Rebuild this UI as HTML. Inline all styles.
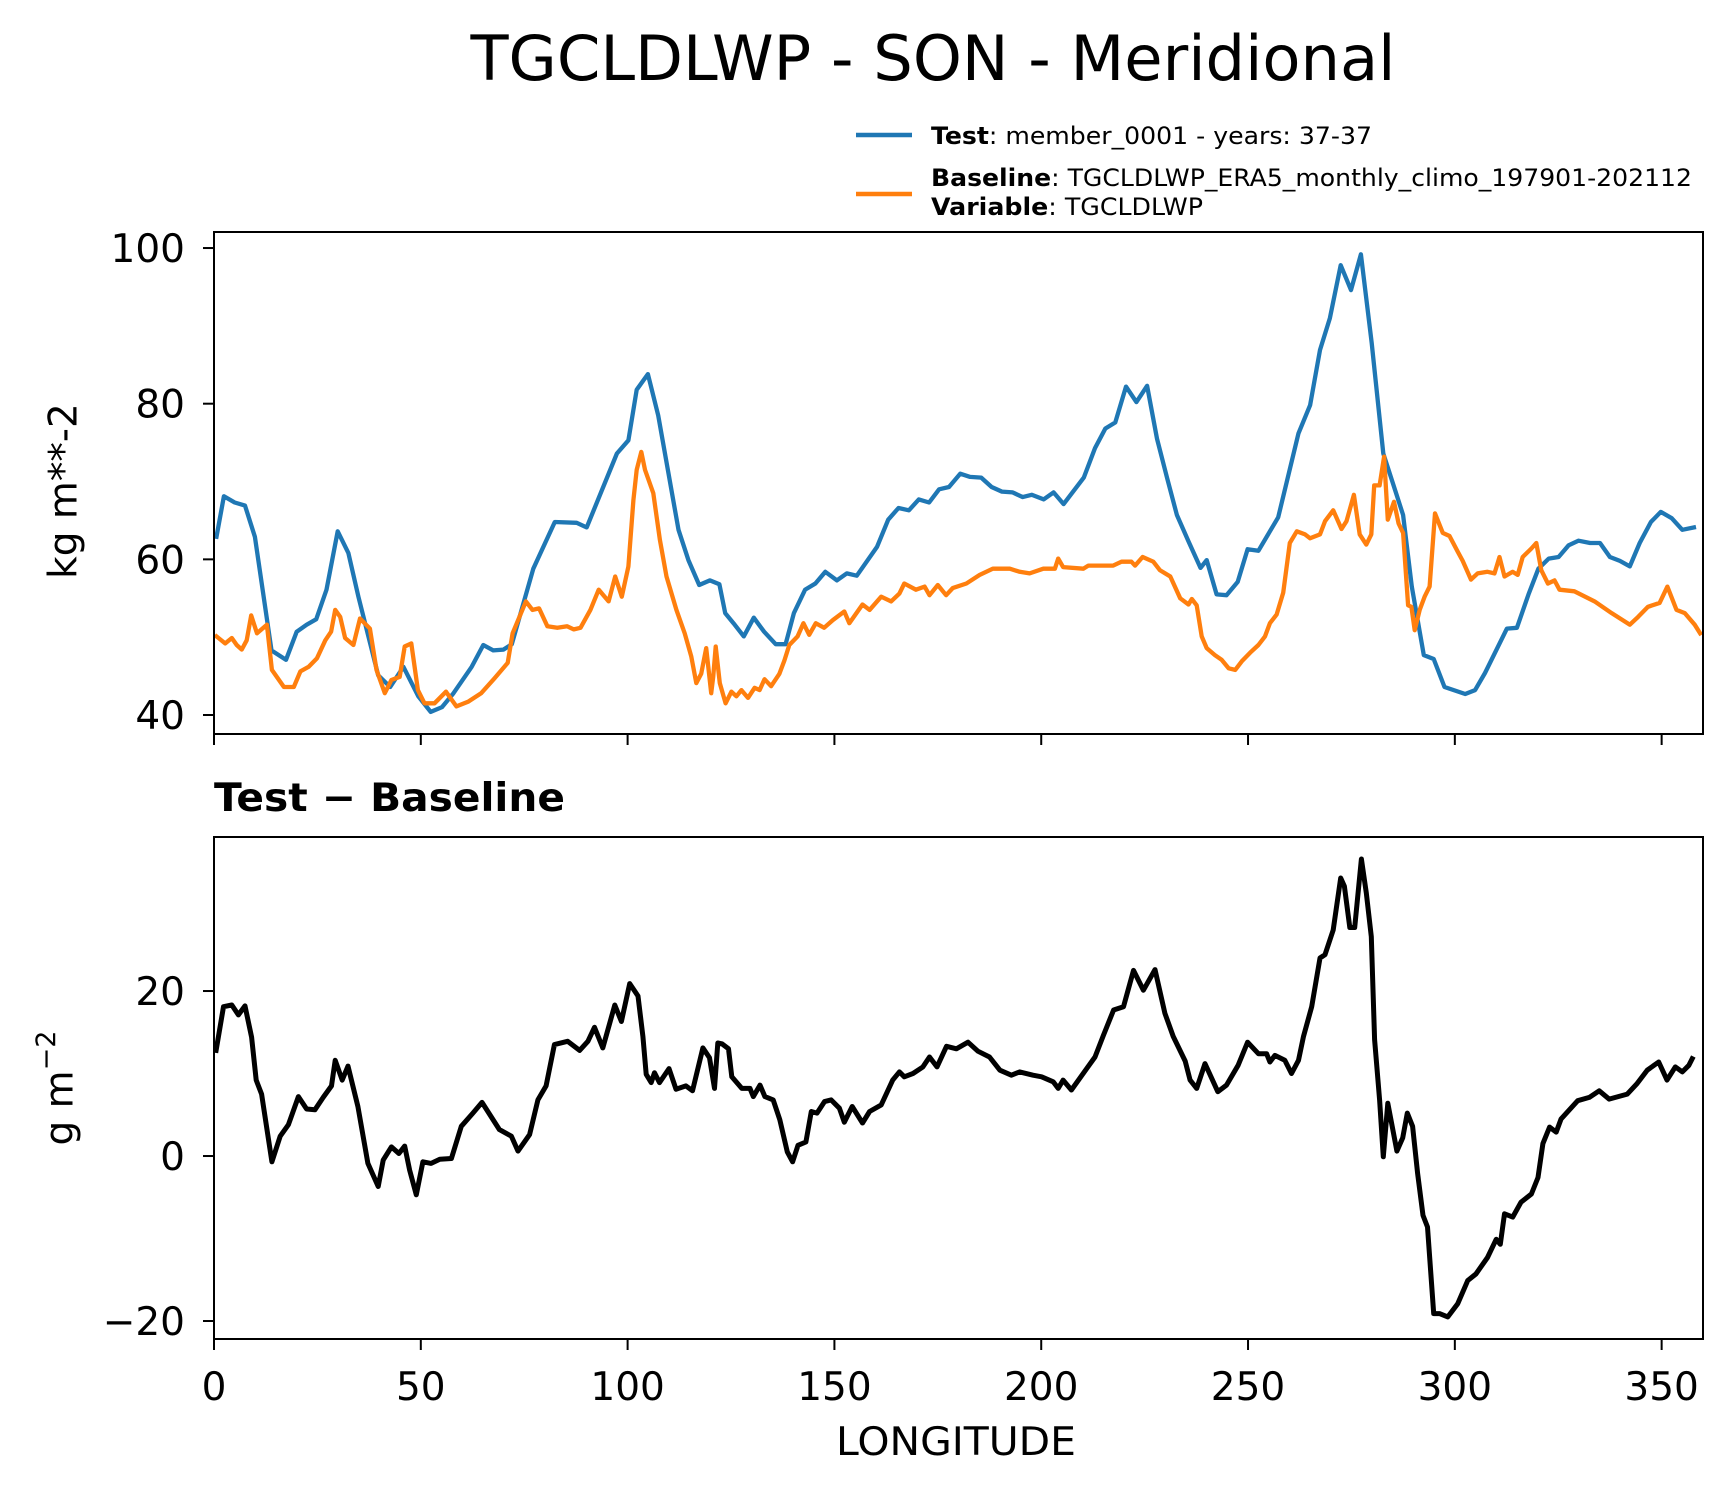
<!DOCTYPE html>
<html><head><meta charset="utf-8"><style>
html,body{margin:0;padding:0;background:#fff;}
svg{display:block;font-family:"DejaVu Sans","Liberation Sans",sans-serif;}
</style></head><body>
<svg id="chart" width="1731" height="1496" viewBox="0 0 1731 1496" xmlns="http://www.w3.org/2000/svg">
<rect x="0" y="0" width="1731" height="1496" fill="#fff"/>
<text x="933" y="80" font-size="62" text-anchor="middle" textLength="925" lengthAdjust="spacingAndGlyphs">TGCLDLWP - SON - Meridional</text>
<g>
<line x1="856" y1="135" x2="912" y2="135" stroke="#1f77b4" stroke-width="4.5"/>
<text x="931" y="144" font-size="24" textLength="441" lengthAdjust="spacingAndGlyphs"><tspan font-weight="bold">Test</tspan>: member_0001 - years: 37-37</text>
<line x1="856" y1="194" x2="912" y2="194" stroke="#ff7f0e" stroke-width="4.5"/>
<text x="931" y="186" font-size="24" textLength="761" lengthAdjust="spacingAndGlyphs"><tspan font-weight="bold">Baseline</tspan>: TGCLDLWP_ERA5_monthly_climo_197901-202112</text>
<text x="931" y="215" font-size="24" textLength="272" lengthAdjust="spacingAndGlyphs"><tspan font-weight="bold">Variable</tspan>: TGCLDLWP</text>
</g>
<g id="top"></g>
<g id="bot"></g>
<text x="64" y="491" font-size="39" text-anchor="middle" dominant-baseline="central" transform="rotate(-90 64 491)">kg m**-2</text>
<text x="60" y="1088" font-size="39" text-anchor="middle" dominant-baseline="central" transform="rotate(-90 60 1088)">g m<tspan font-size="27" dy="-14">−2</tspan></text>
<text x="214" y="811" font-size="39" font-weight="bold" textLength="351" lengthAdjust="spacingAndGlyphs">Test − Baseline</text>
<text x="956" y="1455" font-size="39" text-anchor="middle" textLength="240" lengthAdjust="spacingAndGlyphs">LONGITUDE</text>
</svg>
<script>
const testLon = [0.6,2.4,5.0,7.5,9.9,13.9,17.4,20,22.4,24.7,27.2,29.9,32.5,34.9,39.7,42.6,45.8,49.4,52.4,55.1,57.9,62.3,65.1,67.5,70,72,77.2,82.4,87.7,90.1,97.4,100.2,102.2,104.9,107.4,112.3,114.7,117.3,119.9,122.2,123.6,125.6,128.1,130.5,133,135.8,138.2,140.2,142.9,145.4,147.8,150.6,153,155.4,160.3,163,165.5,168,170.4,172.9,175.3,177.7,180.4,182.8,185.5,188,190.5,193.1,195.5,197.7,200.6,203,205.4,210.3,213,215.5,217.9,220.5,223,225.6,228,230.4,232.8,235.6,238.5,240.0,242.4,244.8,247.5,249.9,252.5,257.3,262.2,265,267.4,269.8,272.4,274.9,277.3,279.9,282.7,287.5,289.6,292.5,294.9,297.5,302.5,304.9,307.3,312.6,315,317.8,320.2,322.7,325.1,327.5,329.9,332.7,335.1,337.5,339.9,342.3,344.7,347.4,349.8,352.4,355,357.8];
const testVal = [62.9,68.1,67.3,66.9,62.9,48.3,47.1,50.7,51.6,52.3,56.1,63.6,60.8,55.2,45.1,43.6,46.2,42.4,40.4,41.0,42.8,46.2,49.0,48.3,48.4,49.1,58.8,64.8,64.7,64.1,73.6,75.3,81.8,83.8,78.5,63.8,59.9,56.7,57.3,56.8,53.1,51.8,50.1,52.5,50.7,49.1,49.1,53.1,56.1,56.9,58.4,57.3,58.2,57.9,61.6,65.1,66.6,66.3,67.7,67.3,69,69.3,71,70.6,70.5,69.3,68.7,68.6,68,68.3,67.7,68.6,67.1,70.5,74.3,76.8,77.6,82.2,80.2,82.3,75.5,70.5,65.7,62.3,58.9,59.9,55.5,55.4,57.1,61.3,61.1,65.4,76.2,79.8,86.9,91,97.8,94.6,99.2,87.8,73.6,65.7,56.5,47.7,47.2,43.6,42.7,43.2,45.4,51.1,51.2,55.5,58.8,60.1,60.3,61.8,62.4,62.1,62.1,60.3,59.8,59.1,62.1,64.8,66.1,65.3,63.8,64.1];
const baseLon = [0.6,1.1,2.7,4.3,5.5,6.7,7.9,9,10.4,12.8,14,16.9,19.3,20.9,22.9,24.9,26.9,28.3,29.3,30.5,31.7,33.7,35.3,37.7,39.3,41.3,42.9,44.9,46.1,47.7,49.3,50.9,53.3,56.1,58.6,61.4,64.6,67.8,71,72.2,75.4,77,78.6,80.6,83,85.4,87,88.6,91,93,95.4,97,98.6,100.2,101.4,102.2,103.3,104.2,106.2,107.8,109.4,111.8,113.8,115.4,116.6,117.8,119,120.2,120.7,121.3,122.3,123.7,125.1,126.3,127.5,129.1,130.7,131.9,133.1,134.7,136.7,137.9,139.1,141.1,142.5,143.9,145.5,147.5,149.6,152.4,153.6,156.8,158.5,161.3,163.7,165.7,166.9,169.7,171.8,173,175,177,178.6,181.9,185.1,188.3,192.4,194.8,197.2,200.5,203.3,204.1,205.3,210.2,211.4,217.4,219.4,221.8,222.7,224.5,227.1,228.7,231.2,233.6,235.6,236.4,237.6,238.8,240.0,242,243.6,245.3,246.9,248.5,250.5,252.5,254.1,255.3,256.9,258.5,260.1,261.8,263.8,265,267.4,268.6,270.6,272.6,273.8,275.6,277,278.6,279.8,280.5,281.8,282.9,283.8,285.3,286.4,287.5,288.7,289.5,290.3,291.5,292.7,293.9,295.2,297.1,298.7,300.7,301.9,303.9,305.5,307.9,309.6,310.8,312,314,315.2,316.4,318.5,319.7,320.9,322.5,324.1,325.3,328.9,333.8,337.9,342.3,344.3,346.7,349.5,351.4,353.6,355.6,358,359.3];
const baseVal = [50.1,49.9,49.2,49.9,49,48.4,49.6,52.8,50.5,51.6,45.8,43.6,43.6,45.6,46.2,47.3,49.6,50.7,53.5,52.6,49.9,49,52.4,51.1,45.8,42.8,44.5,44.9,48.8,49.2,43.2,41.5,41.5,43,41.1,41.7,42.8,44.7,46.7,50.5,54.6,53.5,53.7,51.4,51.2,51.4,51,51.2,53.5,56.1,54.6,57.8,55.2,59.1,67.6,71.5,73.8,71.5,68.5,62.5,57.8,53.5,50.5,47.5,44.1,45.3,48.6,42.8,44.9,48.8,44.1,41.5,43,42.4,43.2,42.2,43.5,43.2,44.6,43.7,45.3,47.0,49,50.1,51.8,50.3,51.8,51.2,52.2,53.3,51.8,54.2,53.5,55.2,54.6,55.6,56.9,56.1,56.5,55.4,56.7,55.4,56.3,56.9,58,58.8,58.8,58.4,58.2,58.8,58.8,60.1,59,58.8,59.2,59.2,59.7,59.7,59.2,60.3,59.7,58.6,57.8,55,54.2,54.9,54.1,50.1,48.6,47.7,47.1,46,45.8,46.9,48,49,50.1,51.8,52.9,55.7,62.1,63.6,63.2,62.7,63.2,64.9,66.3,63.9,64.9,68.3,63.2,61.9,63.2,69.5,69.5,73.2,65.1,67.4,64.6,63.4,54.1,53.9,50.9,53.5,55.2,56.5,65.9,63.4,63,61,59.8,57.4,58.2,58.4,58.2,60.3,57.8,58.4,58,60.3,61.4,62.1,58.6,56.9,57.3,56.1,55.9,54.6,53.1,51.6,52.6,53.9,54.4,56.5,53.5,53.1,51.6,50.5];
const diffLon = [0.5,2.3,4.3,5.9,7.5,9.1,10.2,11.5,14,16,18,20.4,22.4,24.4,26.4,28.4,29.3,31,32.4,34.8,37.2,39.7,40.9,42.9,44.7,46.1,47.3,48.9,50.5,52.5,54.6,57.4,59.8,62.6,64.8,69,71.9,73.5,76.3,78.3,80.3,82.3,85.5,88.4,90.4,92,94,96.9,98.5,100.5,102.5,103.7,104.5,105.7,106.5,107.7,110,111.7,114.1,115.7,118.2,119.8,121,121.8,122.8,124.4,125.2,127.6,129.6,130.4,132,133.2,135.2,136.8,138.6,139.9,141.2,143.1,144.4,145.8,147.6,149.2,151.2,152.4,154.3,156.8,158.5,161.3,164.1,165.7,166.9,169,171.4,173,174.8,177.1,179.5,182.3,184.7,187.5,190,192.8,194.8,198,200.1,202.9,204.1,205.3,207.3,211,213,215,217.5,219.9,222.3,224.7,227.5,229.9,231.9,234.8,236,237.6,239.6,242.7,244.8,247.6,249.9,252.5,254.5,255.3,256.5,258.9,260.5,262.2,263.4,265.4,267.4,268.6,270.6,272.4,273.3,274.6,275.8,277.4,278.6,279.8,280.6,281.8,282.7,283.8,286,287.4,288.5,289.8,291,292.3,293.4,294.9,296.3,298.3,300.7,303.1,305.1,307.9,310,311,312,314,316,318.5,320.1,321.3,322.9,324.5,325.7,329.7,332.5,334.9,337.3,341.7,344.1,346.5,349.3,351.3,353.3,355,356.6,357.4];
const diffVal = [12.8,18.1,18.3,17.1,18.2,14.4,9.2,7.5,-0.7,2.4,3.8,7.2,5.7,5.6,7.1,8.5,11.6,9.2,10.9,6,-0.9,-3.7,-0.5,1.1,0.3,1.2,-1.7,-4.7,-0.7,-0.9,-0.4,-0.3,3.6,5.2,6.5,3.2,2.4,0.6,2.6,6.8,8.5,13.5,13.9,12.8,13.9,15.6,13.1,18.3,16.3,20.9,19.4,14.5,9.9,8.9,10.1,8.9,10.6,8.1,8.5,7.9,13.1,11.9,8.2,13.7,13.6,13,9.6,8.2,8.2,7.2,8.6,7.2,6.8,4.4,0.5,-0.7,1.3,1.7,5.4,5.2,6.6,6.8,5.8,4.1,6,4,5.4,6.2,9.2,10.2,9.6,10,10.8,12,10.8,13.3,13,13.8,12.7,12,10.4,9.8,10.2,9.8,9.6,9,8.2,9.2,8,10.6,12,14.6,17.7,18.1,22.5,20.1,22.6,17.3,14.5,11.5,9.2,8.2,11.2,7.8,8.6,11,13.8,12.4,12.4,11.4,12.2,11.6,10,11.6,14.5,18.1,24,24.4,27.4,33.7,32.7,27.7,27.7,36,31.9,26.6,14.1,6.8,-0.1,6.4,0.6,2.2,5.2,3.6,-2.1,-7.2,-8.6,-19.1,-19.1,-19.5,-17.9,-15.1,-14.3,-12.3,-10.1,-10.7,-7,-7.4,-5.6,-4.6,-2.6,1.5,3.5,2.9,4.5,6.7,7.1,7.9,6.9,7.5,8.8,10.4,11.4,9.2,10.8,10.2,11,11.8];
const xTicks = [0,50,100,150,200,250,300,350];
const topYTicks = [40,60,80,100];
const botYTicks = [-20,0,20];

const NS = 'http://www.w3.org/2000/svg';
const L = 214, R = 1703;
const xDomain = [0, 360];
function xs(v){ return L + (v - xDomain[0]) / (xDomain[1] - xDomain[0]) * (R - L); }
const topBox = {t:232, b:734}, botBox = {t:837, b:1339};
const topDom = [37.56, 102.06], botDom = [-22.18, 38.67];
function ysTop(v){ return topBox.b - (v - topDom[0]) / (topDom[1] - topDom[0]) * (topBox.b - topBox.t); }
function ysBot(v){ return botBox.b - (v - botDom[0]) / (botDom[1] - botDom[0]) * (botBox.b - botBox.t); }
function mk(tag, attrs, parent){ const e = document.createElementNS(NS, tag); for (const k in attrs) e.setAttribute(k, attrs[k]); parent.appendChild(e); return e; }

function drawAxes(g, box, ys, yTicks, showXLabels, prefix){
  const clipId = prefix + '-clip';
  const cp = mk('clipPath', {id: clipId}, g);
  mk('rect', {x: L, y: box.t, width: R - L, height: box.b - box.t}, cp);
  for (const t of xTicks){
    const tk = mk('line', {x1: xs(t), x2: xs(t), y1: box.b, y2: box.b + 11, stroke: '#000', 'stroke-width': 2}, g);
    
    
    if (showXLabels){
      const tx = mk('text', {x: xs(t), y: 1400, 'font-size': 39, 'text-anchor': 'middle'}, g);
      tx.textContent = String(t);
      
      
    }
  }
  for (const t of yTicks){
    const tk = mk('line', {x1: L - 11, x2: L, y1: ys(t), y2: ys(t), stroke: '#000', 'stroke-width': 2}, g);
    
    
    const tx = mk('text', {x: 185, y: ys(t) + 14, 'font-size': 39, 'text-anchor': 'end'}, g);
    tx.textContent = t < 0 ? '−' + Math.abs(t) : String(t);
    
    
  }
  return clipId;
}
function drawLine(g, lons, vals, ys, color, w, clipId, name){
  const d = lons.map((x, i) => (i ? 'L' : 'M') + xs(x).toFixed(1) + ' ' + ys(vals[i]).toFixed(1)).join(' ');
  const p = mk('path', {d: d, fill: 'none', stroke: color, 'stroke-width': w, 'stroke-linejoin': 'round', 'stroke-linecap': 'square', 'clip-path': 'url(#' + clipId + ')'}, g);
  
  
}
function frame(g, box, prefix){
  const f = mk('rect', {x: L, y: box.t, width: R - L, height: box.b - box.t, fill: 'none', stroke: '#000', 'stroke-width': 2}, g);
  
  
}
const gTop = document.getElementById('top');
const c1 = drawAxes(gTop, topBox, ysTop, topYTicks, false, 'top');
drawLine(gTop, testLon, testVal, ysTop, '#1f77b4', 4.3, c1, 'test-line');
drawLine(gTop, baseLon, baseVal, ysTop, '#ff7f0e', 4.3, c1, 'baseline-line');
frame(gTop, topBox, 'top');
const gBot = document.getElementById('bot');
const c2 = drawAxes(gBot, botBox, ysBot, botYTicks, true, 'bottom');
drawLine(gBot, diffLon, diffVal, ysBot, '#000', 5, c2, 'difference-line');
frame(gBot, botBox, 'bottom');
</script>
</body></html>
